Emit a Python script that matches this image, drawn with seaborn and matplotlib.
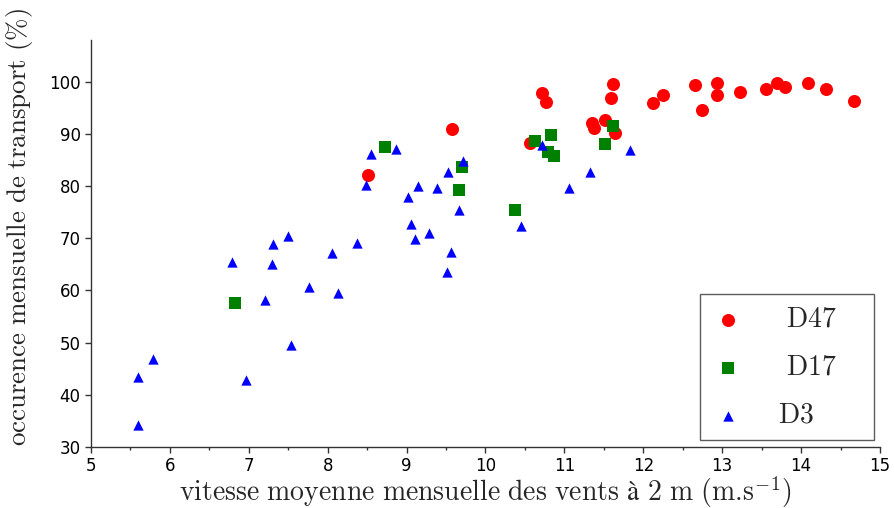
import numpy as np
import pandas as pd
import seaborn as sns
import matplotlib.pyplot as plt
from matplotlib.ticker import MultipleLocator

# Donnees
d47_x = [8.51, 9.58, 10.56, 10.71, 10.77, 11.35, 11.37, 11.51, 11.64, 11.62, 11.59, 12.12,
         12.25, 12.66, 12.74, 12.93, 12.93, 13.22, 13.55, 13.69, 13.79, 14.09, 14.32, 14.67]
d47_y = [82.2, 90.9, 88.3, 97.8, 96.1, 92.0, 91.2, 92.6, 90.2, 99.5, 96.9, 95.9,
         97.5, 99.3, 94.5, 99.8, 97.5, 98.0, 98.7, 99.8, 98.9, 99.8, 98.7, 96.4]

d17_x = [6.83, 8.73, 9.70, 9.66, 10.37, 10.63, 10.83, 10.79, 10.87, 11.51, 11.62]
d17_y = [57.6, 87.4, 83.7, 79.2, 75.5, 88.6, 89.7, 86.6, 85.7, 88.0, 91.6]

d3_x = [5.59, 5.79, 5.60, 6.97, 7.54, 8.55, 8.87, 9.71, 9.52, 8.48, 9.14, 9.39, 9.02,
        9.66, 9.06, 9.29, 9.11, 7.50, 7.31, 8.37, 8.05, 9.56, 6.79, 7.30, 9.51, 7.76,
        8.13, 7.20, 10.71, 10.45, 11.33, 11.06, 11.83]
d3_y = [43.5, 46.9, 34.2, 42.9, 49.6, 86.2, 87.1, 84.8, 82.7, 80.3, 80.1, 79.7, 78.0,
        75.5, 72.8, 71.0, 69.8, 70.5, 68.9, 69.0, 67.1, 67.4, 65.5, 65.1, 63.6, 60.7,
        59.5, 58.1, 87.9, 72.4, 82.7, 79.7, 86.9]

x_ticks = [5, 6, 7, 8, 9, 10, 11, 12, 13, 14, 15]
y_ticks = [30, 40, 50, 60, 70, 80, 90, 100]

sns.set_style("ticks")
plt.rcParams["mathtext.fontset"] = "cm"
plt.rcParams["font.family"] = ["DejaVu Sans"]

fig, ax = plt.subplots(figsize=(8.95, 5.08), dpi=100)
fig.subplots_adjust(left=0.1017, right=0.9832, bottom=0.1201, top=0.9213)

series = [
    (d47_x, d47_y, "red", "o", 88, r"$\ \mathrm{D47}$"),
    (d17_x, d17_y, "green", "s", 80, r"$\ \mathrm{D17}$"),
    (d3_x, d3_y, "blue", "^", 55, r"$\mathrm{D3}$"),
]
for xs, ys, col, mk, size, lab in series:
    df = pd.DataFrame({"vitesse": xs, "occurence": ys})
    sns.scatterplot(data=df, x="vitesse", y="occurence", ax=ax, color=col,
                    marker=mk, s=size, linewidth=0, label=lab)

ax.set_xlim(5, 15)
ax.set_ylim(30, 108)
ax.set_xticks(x_ticks)
ax.set_yticks(y_ticks)
ax.xaxis.set_minor_locator(MultipleLocator(0.5))
ax.tick_params(axis="both", which="major", labelsize=12, length=4, width=1,
               color="#333333", labelcolor="black")
ax.tick_params(axis="x", which="minor", length=2, width=1, color="#333333")

sns.despine(ax=ax)
for side in ["left", "bottom"]:
    ax.spines[side].set_color("#333333")
    ax.spines[side].set_linewidth(1)

ax.set_xlabel(r"$\mathrm{vitesse\ moyenne\ mensuelle\ des\ vents\ à\ 2\ m\ (m.\!s^{-1})}$",
              fontsize=20)
ax.set_ylabel(r"$\mathrm{occurence\ mensuelle\ de\ transport\ (\%)}$", fontsize=19.4)
ax.xaxis.set_label_coords(0.5, -0.066)
ax.yaxis.set_label_coords(-0.071, 0.54)

leg = ax.legend(loc="lower left", bbox_to_anchor=(0.7719, 0.0172, 0.2205, 0.354),
                mode="expand", borderaxespad=0, fontsize=20, frameon=True,
                fancybox=False, handlelength=1.2, handletextpad=1.2,
                borderpad=0.4, labelspacing=0.72)
leg.get_frame().set_edgecolor("#333333")
leg.get_frame().set_linewidth(1)

plt.savefig("out.png", dpi=100)
